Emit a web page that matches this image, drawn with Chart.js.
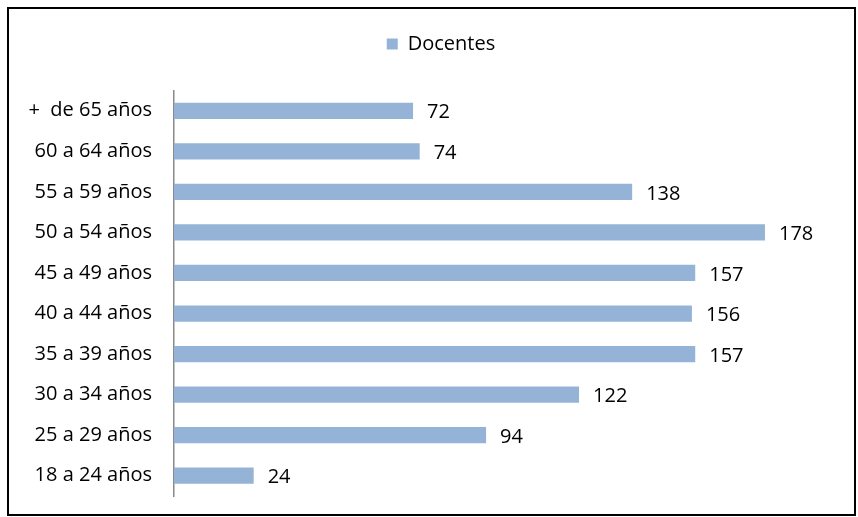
<!DOCTYPE html>
<html>
<head>
<meta charset="utf-8">
<script src="https://cdn.jsdelivr.net/npm/chart.js@4/dist/chart.umd.min.js"></script>
<style>
  html, body { margin: 0; padding: 0; background: #fff; }
  #wrap { position: relative; width: 858px; height: 517px; }
</style>
</head>
<body>
<div id="wrap"><canvas id="chart"></canvas></div>
<script>
const categories = ['+  de 65 años', '60 a 64 años', '55 a 59 años', '50 a 54 años', '45 a 49 años',
                    '40 a 44 años', '35 a 39 años', '30 a 34 años', '25 a 29 años', '18 a 24 años'];
const docentes = [72, 74, 138, 178, 157, 156, 157, 122, 94, 24];
const seriesName = 'Docentes';
const axisMax = 200;

const barColor = '#95B3D7';
const fontFamily = '"Open Sans", Lato, sans-serif';
const fontSize = 20;

// frame round the whole chart
const frame = {
    id: 'frame',
    afterDraw(chart) {
        const c = chart.ctx;
        c.save();
        c.strokeStyle = '#000';
        c.lineWidth = 2;
        c.strokeRect(8, 8, 847, 507);
        c.restore();
    }
};

// legend sits a bit right of the canvas centre in the original
const legendNudge = {
    id: 'legendNudge',
    beforeDraw(chart) {
        if (!chart.legend._nudged) {
            chart.legend.left += 22;
            chart.legend.right += 22;
            chart.legend._nudged = true;
        }
    },
    afterLayout(chart) {
        chart.legend._nudged = false;
    }
};

// value labels to the right of the bars
const valueLabels = {
    id: 'valueLabels',
    afterDatasetsDraw(chart) {
        const c = chart.ctx;
        const meta = chart.getDatasetMeta(0);
        c.save();
        c.font = fontSize + 'px ' + fontFamily;
        c.fillStyle = '#000';
        c.textAlign = 'left';
        c.textBaseline = 'middle';
        meta.data.forEach((bar, i) => {
            c.fillText(docentes[i], bar.x + 14, bar.y + 2);
        });
        c.restore();
    }
};

new Chart(document.getElementById('chart'), {
    type: 'bar',
    data: {
        labels: categories,
        datasets: [{
            label: seriesName,
            data: docentes,
            backgroundColor: barColor,
            borderWidth: 0,
            categoryPercentage: 0.4,
            barPercentage: 1
        }]
    },
    options: {
        indexAxis: 'y',
        responsive: true,
        maintainAspectRatio: false,
        animation: false,
        layout: {
            padding: { left: 0, right: 20, top: 11, bottom: 21 }
        },
        scales: {
            x: {
                display: false,
                min: 0,
                max: axisMax
            },
            y: {
                afterFit: (scale) => {
                    scale.width = 174;
                    scale.paddingTop = 0;
                    scale.paddingBottom = 0;
                },
                grid: { display: false, drawTicks: false },
                border: { display: true, color: '#8a8a8a', width: 1.5 },
                ticks: {
                    padding: 22,
                    color: '#000',
                    font: { family: fontFamily, size: fontSize }
                }
            }
        },
        plugins: {
            legend: {
                position: 'top',
                labels: {
                    boxWidth: 11,
                    boxHeight: 11,
                    padding: 23,
                    color: '#000',
                    font: { family: fontFamily, size: fontSize }
                }
            },
            // empty title used only as a gap between legend and plot
            title: {
                display: true,
                text: ' ',
                weight: 500,
                font: { size: 10, lineHeight: 1 },
                padding: { top: 8, bottom: 8.5 }
            },
            tooltip: { enabled: false }
        }
    },
    plugins: [frame, legendNudge, valueLabels]
});
</script>
</body>
</html>
